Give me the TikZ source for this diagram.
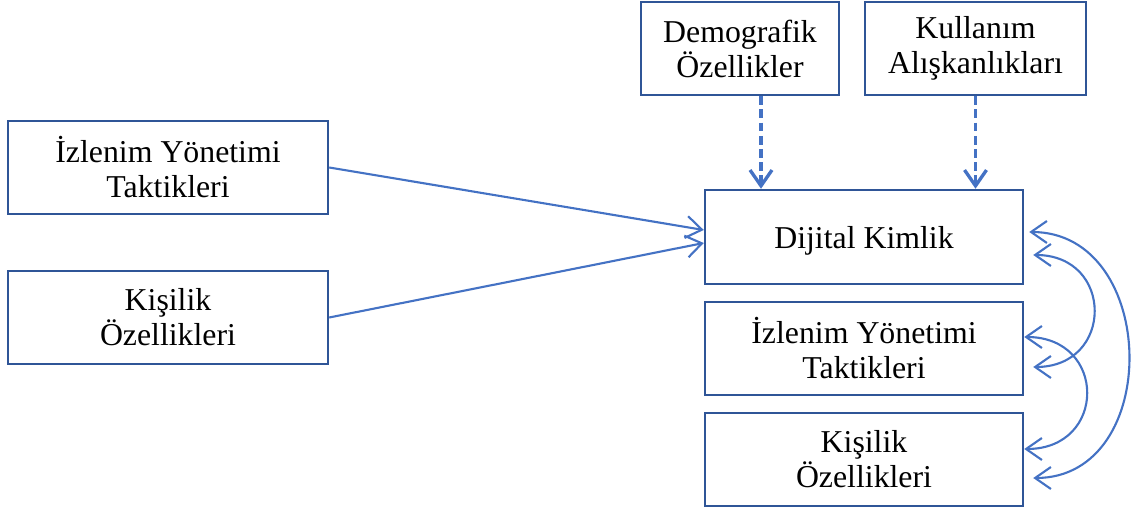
\documentclass[tikz,border=0pt]{standalone}
\usepackage{fontspec}
\setmainfont{Liberation Serif}
\usetikzlibrary{arrows.meta}

\definecolor{boxblue}{HTML}{2F5597}
\definecolor{arrblue}{HTML}{4472C4}

\begin{document}
\begin{tikzpicture}[
  >={Straight Barb[length=9pt,width=12.5pt]},
  box/.style = {draw=boxblue, line width=1.4pt, inner sep=0pt, align=center,
                minimum height=1.86cm, font=\fontsize{18.1}{19.9}\selectfont},
  arr/.style = {arrblue, line width=1.2pt, ->},
  dasharr/.style = {arr, line width=1.9pt, dash pattern=on 5pt off 2.5pt},
  bothway/.style = {arr, <->}
]
\useasboundingbox (0,0) rectangle (22.7,-10.26);

% boxes on top and at the left
\node[box, minimum width=3.96cm] (demo) at (14.8,-0.97) {Demografik\\Özellikler};
\node[box, minimum width=4.42cm] (kull) at (19.51,-0.97) {Kullanım\\Alışkanlıkları};
\node[box, minimum width=6.4cm] (izL) at (3.36,-3.35) {İzlenim Yönetimi\\Taktikleri};
\node[box, minimum width=6.4cm] (kisL) at (3.36,-6.35) {Kişilik\\Özellikleri};

% column at the right
\node[box, minimum width=6.36cm, minimum height=1.88cm, text depth=0pt] (dij) at (17.28,-4.74) {Dijital Kimlik};
\node[box, minimum width=6.36cm] (izR) at (17.28,-6.97) {İzlenim Yönetimi\\Taktikleri};
\node[box, minimum width=6.36cm] (kisR) at (17.28,-9.19) {Kişilik\\Özellikleri};

% direct paths
\draw[arr] (izL.east) -- ([yshift=0.14cm]dij.west);
\draw[arr] (kisL.east) -- ([yshift=-0.12cm]dij.west);

% control variables
\coordinate (d1) at ([xshift=0.42cm]demo.south);
\draw[dasharr] (d1) -- (d1 |- dij.north);
\draw[dasharr] (kull.south) -- (kull.south |- dij.north);

% correlations between the outcomes
\draw[bothway] ([shift={(0.1,0.1)}]dij.east) .. controls +(2.6,0) and +(2.6,0) .. ([shift={(0.18,-0.37)}]kisR.east);
\draw[bothway] ([shift={(0.18,-0.36)}]dij.east) .. controls +(1.62,0) and +(1.62,0) .. ([shift={(0.18,-0.37)}]izR.east);
\draw[bothway] ([yshift=0.23cm]izR.east) .. controls +(1.66,0) and +(1.66,0) .. ([yshift=0.21cm]kisR.east);
\end{tikzpicture}
\end{document}
